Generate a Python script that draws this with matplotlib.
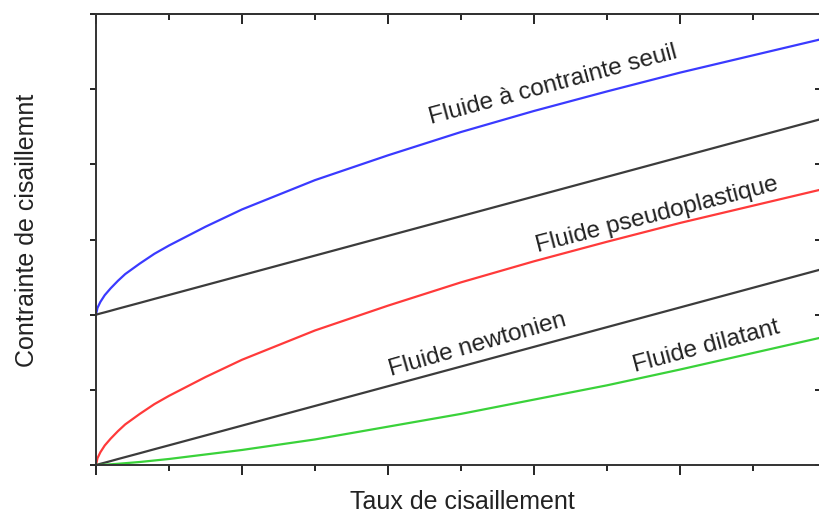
import matplotlib
matplotlib.use("Agg")
import matplotlib.pyplot as plt
from matplotlib.ticker import MultipleLocator, NullFormatter

plt.rcParams["font.family"] = ["Liberation Sans", "DejaVu Sans"]

# values (arbitrary units, x 0..5, y 0..6)
shear_rate = [0, 0.01, 0.03, 0.06, 0.1, 0.15, 0.2, 0.3, 0.4, 0.5, 0.75, 1, 1.5, 2, 2.5, 3, 3.5, 4, 4.5, 5]
seuil = [2.0, 2.09, 2.17, 2.26, 2.35, 2.45, 2.54, 2.68, 2.81, 2.92, 3.17, 3.40, 3.79, 4.12, 4.43, 4.71, 4.97, 5.22, 5.45, 5.68]
bingham = [2.0, 2.005, 2.016, 2.031, 2.052, 2.079, 2.105, 2.157, 2.210, 2.262, 2.393, 2.524, 2.786, 3.048,
           3.310, 3.572, 3.834, 4.096, 4.358, 4.620]
pseudo = [0.0, 0.09, 0.17, 0.26, 0.35, 0.45, 0.54, 0.68, 0.81, 0.92, 1.17, 1.40, 1.79, 2.12, 2.43, 2.71, 2.97, 3.22, 3.45, 3.68]
newton = [0.0, 0.005, 0.016, 0.031, 0.052, 0.079, 0.105, 0.157, 0.210, 0.262, 0.393, 0.524, 0.786, 1.048,
          1.310, 1.572, 1.834, 2.096, 2.358, 2.620]
dilatant = [0.0, 0.0003, 0.001, 0.004, 0.009, 0.016, 0.024, 0.04, 0.06, 0.08, 0.14, 0.20, 0.34, 0.51, 0.68, 0.87, 1.06, 1.27, 1.49, 1.71]

labels = ["Fluide à contrainte seuil", "Fluide pseudoplastique", "Fluide newtonien", "Fluide dilatant"]
label_x = [3.13, 3.84, 2.61, 4.18]
label_y = [5.05, 3.33, 1.60, 1.58]
label_rot = [15, 14.5, 16, 15]

fig = plt.figure(figsize=(8.19, 5.18), dpi=100)
ax = fig.add_axes([96 / 819, 53 / 518, 730 / 819, 451 / 518])

ax.plot(shear_rate, seuil, color="#3a3aff", lw=1.6)
ax.plot(shear_rate, bingham, color="#3c3c3c", lw=1.6)
ax.plot(shear_rate, pseudo, color="#ff3a3a", lw=1.6)
ax.plot(shear_rate, newton, color="#3c3c3c", lw=1.6)
ax.plot(shear_rate, dilatant, color="#3ad23a", lw=1.6)

for txt, x, y, r in zip(labels, label_x, label_y, label_rot):
    ax.text(x, y, txt, rotation=r, ha="center", va="center",
            fontsize=17.5, color="#222222", rotation_mode="anchor")

ax.set_xlim(0, 5)
ax.set_ylim(0, 6)
ax.xaxis.set_major_locator(MultipleLocator(1))
ax.xaxis.set_minor_locator(MultipleLocator(0.5))
ax.yaxis.set_major_locator(MultipleLocator(1))
ax.xaxis.set_major_formatter(NullFormatter())
ax.yaxis.set_major_formatter(NullFormatter())
ax.tick_params(axis="x", which="major", direction="out", length=7, width=1.2)
ax.tick_params(axis="x", which="minor", direction="out", length=4, width=1.2)
ax.tick_params(axis="y", which="major", direction="out", length=4, width=1.2)

# top and right axes: ticks pointing inward
top = ax.secondary_xaxis("top")
top.xaxis.set_major_locator(MultipleLocator(1))
top.xaxis.set_minor_locator(MultipleLocator(0.5))
top.xaxis.set_major_formatter(NullFormatter())
top.tick_params(which="major", direction="in", length=7, width=1.2)
top.tick_params(which="minor", direction="in", length=4, width=1.2)
right = ax.secondary_yaxis("right")
right.yaxis.set_major_locator(MultipleLocator(1))
right.yaxis.set_major_formatter(NullFormatter())
right.tick_params(direction="in", length=8, width=1.2)

for a in (ax, top, right):
    for s in a.spines.values():
        s.set_linewidth(1.4)
        s.set_color("#333333")

fig.text(462 / 819, 1 - 502 / 518, "Taux de cisaillement", ha="center", va="center",
         fontsize=18, color="#222222")
fig.text(27 / 819, 1 - 230 / 518, "Contrainte de cisaillemnt", ha="center", va="center",
         rotation=90, fontsize=18, color="#222222")

fig.savefig("out.png", dpi=100)
